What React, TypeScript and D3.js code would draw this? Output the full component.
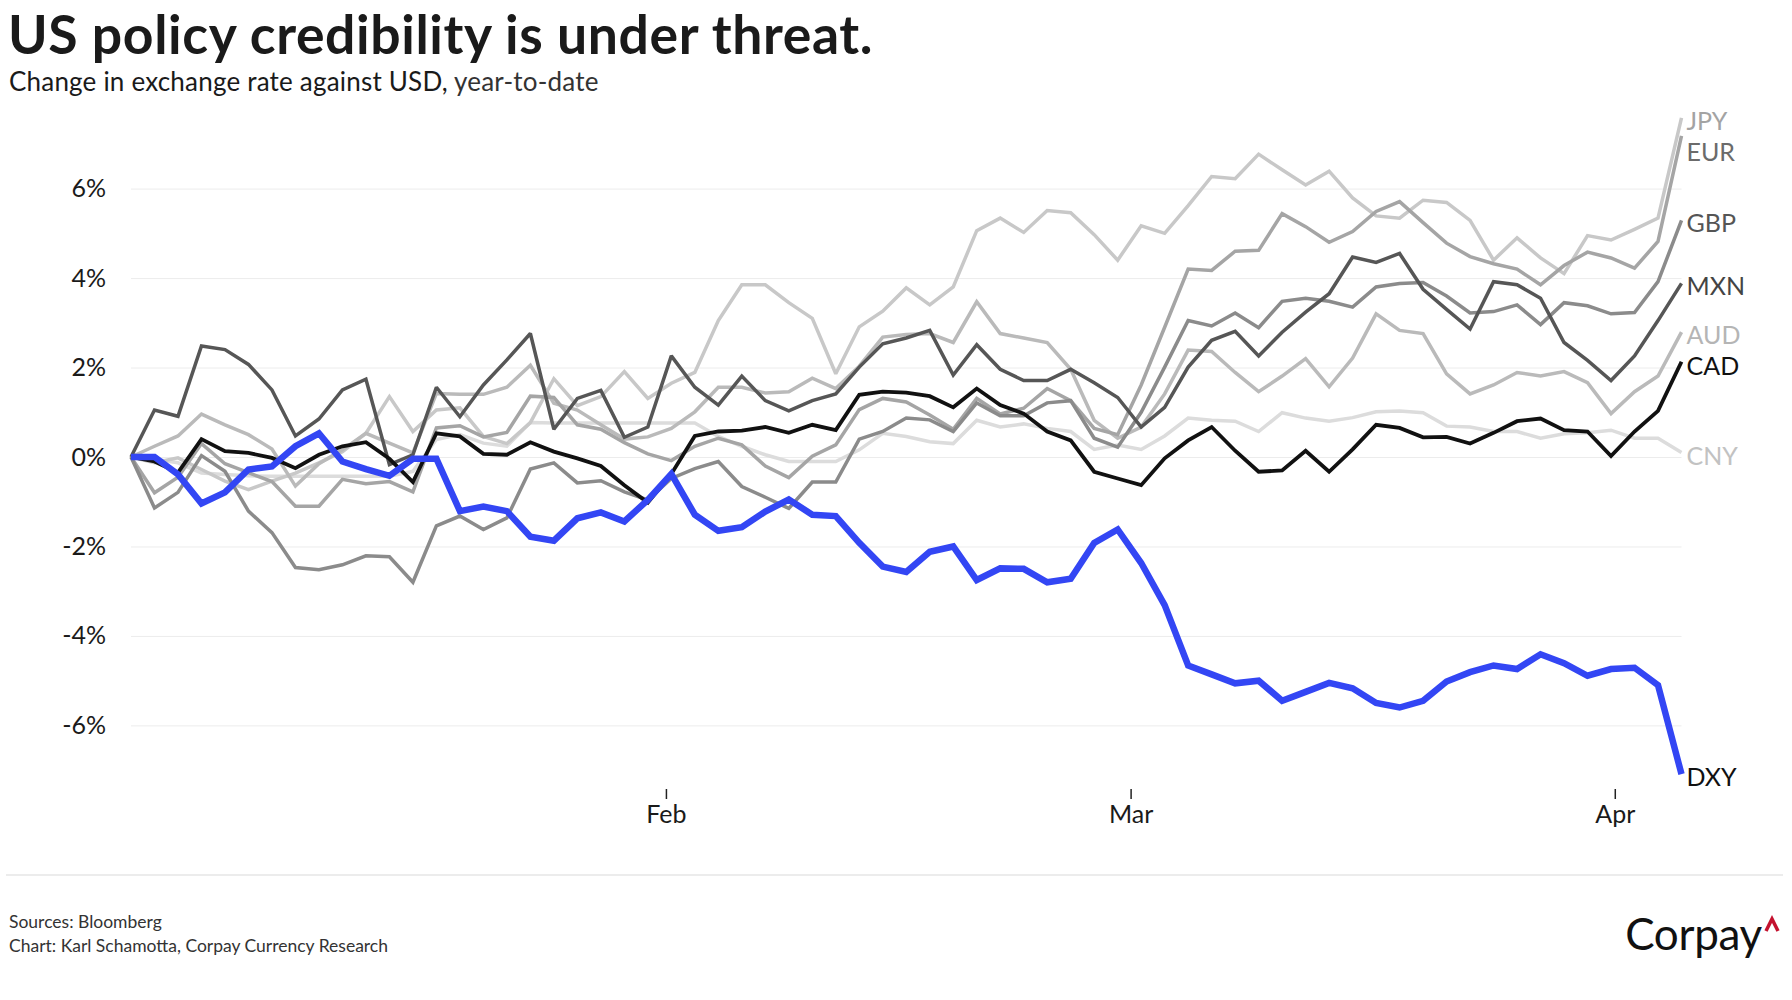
import { useEffect, useRef } from "react";
import * as d3 from "d3";

const FONT = "Lato, 'Noto Sans', sans-serif";

// x = trading-day index, 0 = 31 Dec 2024 (all series rebased to 0%)
const monthTicks = [22.77, 42.55, 63.16];
const monthLabels = ["Feb", "Mar", "Apr"];
const yTicks = [-6, -4, -2, 0, 2, 4, 6];

const dxy = [0, 0, -0.39, -1.04, -0.79, -0.28, -0.21, 0.24, 0.53, -0.1, -0.27, -0.42, -0.04, -0.04, -1.21, -1.11, -1.21, -1.78, -1.87, -1.37, -1.24, -1.44, -0.96, -0.38, -1.29, -1.65, -1.57, -1.22, -0.95, -1.29, -1.32, -1.92, -2.45, -2.57, -2.12, -2.0, -2.75, -2.49, -2.5, -2.8, -2.72, -1.92, -1.62, -2.37, -3.31, -4.66, -4.86, -5.06, -5.0, -5.45, -5.25, -5.05, -5.17, -5.5, -5.6, -5.45, -5.02, -4.81, -4.66, -4.74, -4.41, -4.61, -4.89, -4.74, -4.71, -5.1, -7.09];
const cad = [0, -0.1, -0.35, 0.4, 0.13, 0.09, -0.02, -0.25, 0.05, 0.24, 0.33, -0.04, -0.56, 0.53, 0.46, 0.07, 0.05, 0.33, 0.12, -0.03, -0.2, -0.63, -1.02, -0.38, 0.47, 0.57, 0.59, 0.67, 0.54, 0.72, 0.6, 1.39, 1.46, 1.44, 1.36, 1.11, 1.53, 1.16, 0.97, 0.57, 0.37, -0.33, -0.48, -0.63, -0.03, 0.37, 0.67, 0.14, -0.33, -0.3, 0.14, -0.33, 0.17, 0.72, 0.65, 0.44, 0.45, 0.3, 0.54, 0.8, 0.86, 0.6, 0.57, 0.02, 0.57, 1.03, 2.13];
const mxn = [0, 1.05, 0.91, 2.48, 2.4, 2.07, 1.5, 0.47, 0.85, 1.5, 1.74, -0.17, 0.05, 1.56, 0.9, 1.61, 2.17, 2.76, 0.62, 1.31, 1.49, 0.44, 0.67, 2.26, 1.56, 1.16, 1.81, 1.26, 1.03, 1.26, 1.41, 2.01, 2.53, 2.66, 2.83, 1.83, 2.51, 1.96, 1.71, 1.71, 1.96, 1.66, 1.33, 0.67, 1.11, 2.01, 2.61, 2.81, 2.26, 2.79, 3.24, 3.65, 4.47, 4.35, 4.55, 3.75, 3.3, 2.86, 3.92, 3.85, 3.55, 2.56, 2.16, 1.71, 2.26, 3.05, 3.88];
const gbp = [0, -1.14, -0.79, 0.03, -0.32, -1.21, -1.69, -2.47, -2.52, -2.41, -2.21, -2.23, -2.8, -1.54, -1.32, -1.62, -1.36, -0.27, -0.13, -0.58, -0.53, -0.78, -0.96, -0.48, -0.26, -0.1, -0.66, -0.9, -1.15, -0.56, -0.56, 0.4, 0.57, 0.87, 0.83, 0.57, 1.21, 0.92, 0.92, 1.21, 1.26, 0.42, 0.22, 1.0, 2.01, 3.05, 2.93, 3.22, 2.89, 3.48, 3.55, 3.48, 3.35, 3.8, 3.88, 3.9, 3.6, 3.22, 3.25, 3.4, 2.96, 3.45, 3.38, 3.2, 3.23, 3.92, 5.29];
const eur = [0, -0.8, -0.45, 0.3, -0.15, -0.35, -0.55, -1.1, -1.1, -0.5, -0.6, -0.55, -0.78, 0.65, 0.7, 0.45, 0.55, 1.36, 1.33, 0.72, 0.62, 0.32, 0.07, -0.08, 0.24, 0.42, 0.27, -0.2, -0.46, 0.02, 0.27, 1.06, 1.31, 1.23, 0.94, 0.62, 1.31, 0.96, 1.09, 1.53, 1.26, 0.64, 0.5, 1.61, 2.9, 4.2, 4.17, 4.6, 4.62, 5.44, 5.15, 4.8, 5.04, 5.49, 5.71, 5.24, 4.78, 4.48, 4.32, 4.2, 3.85, 4.28, 4.58, 4.45, 4.22, 4.82, 7.18];
const jpy = [0, -0.13, -0.02, -0.28, -0.54, -0.73, -0.54, -0.36, -0.13, 0.12, 0.53, 1.35, 0.57, 1.05, 1.1, 0.46, 0.3, 0.77, 1.75, 1.15, 1.35, 1.91, 1.31, 1.65, 1.89, 3.05, 3.85, 3.85, 3.45, 3.1, 1.86, 2.91, 3.26, 3.78, 3.4, 3.8, 5.06, 5.34, 5.02, 5.51, 5.46, 4.97, 4.4, 5.17, 5.0, 5.62, 6.27, 6.22, 6.77, 6.42, 6.08, 6.39, 5.79, 5.39, 5.34, 5.74, 5.69, 5.29, 4.4, 4.9, 4.45, 4.1, 4.95, 4.85, 5.09, 5.34, 7.58];
const aud = [0, 0.24, 0.47, 0.96, 0.72, 0.5, 0.18, -0.65, -0.15, 0.16, 0.53, 0.31, 0.09, 1.42, 1.4, 1.4, 1.56, 2.05, 1.2, 1.05, 0.72, 0.4, 0.45, 0.64, 1.01, 1.56, 1.56, 1.43, 1.46, 1.76, 1.53, 2.03, 2.68, 2.74, 2.76, 2.56, 3.47, 2.76, 2.66, 2.56, 1.96, 0.82, 0.42, 0.67, 1.41, 2.39, 2.36, 1.89, 1.46, 1.81, 2.2, 1.57, 2.21, 3.2, 2.83, 2.76, 1.86, 1.41, 1.61, 1.89, 1.81, 1.91, 1.66, 0.97, 1.46, 1.81, 2.79];
const cny = [0, -0.05, -0.13, -0.36, -0.39, -0.42, -0.43, -0.43, -0.43, -0.43, -0.43, -0.43, -0.32, 0.39, 0.5, 0.31, 0.24, 0.77, 0.76, 0.76, 0.76, 0.76, 0.76, 0.76, 0.76, 0.46, 0.24, 0.05, -0.1, -0.1, -0.1, 0.16, 0.53, 0.46, 0.34, 0.3, 0.82, 0.67, 0.74, 0.64, 0.57, 0.17, 0.27, 0.17, 0.47, 0.87, 0.82, 0.8, 0.57, 0.99, 0.87, 0.8, 0.88, 1.01, 1.03, 0.99, 0.69, 0.67, 0.57, 0.57, 0.42, 0.52, 0.54, 0.6, 0.42, 0.42, 0.1];

// drawing order: light greys first, DXY on top
const series = [
  { name: "CNY", values: cny, stroke: "#dcdcdc", label: "#c2c2c2", width: 3.5 },
  { name: "JPY", values: jpy, stroke: "#c8c8c8", label: "#a3a3a3", width: 3.5 },
  { name: "AUD", values: aud, stroke: "#bababa", label: "#b5b5b5", width: 3.5 },
  { name: "EUR", values: eur, stroke: "#a5a5a5", label: "#6b6b6b", width: 3.5 },
  { name: "GBP", values: gbp, stroke: "#8b8b8b", label: "#555555", width: 3.5 },
  { name: "MXN", values: mxn, stroke: "#565656", label: "#444444", width: 3.5 },
  { name: "CAD", values: cad, stroke: "#111111", label: "#111111", width: 3.8 },
  { name: "DXY", values: dxy, stroke: "#3346f4", label: "#111111", width: 6.5 },
];

export default function App() {
  const yAxisRef = useRef<SVGGElement | null>(null);
  const xAxisRef = useRef<SVGGElement | null>(null);

  const x = d3.scaleLinear().domain([0, dxy.length - 1]).range([131, 1681.5]);
  const y = d3.scaleLinear().domain([-6, 6]).range([725.4, 188.6]);
  const line = d3.line<number>().x((_, i) => x(i)).y((d) => y(d));

  // end labels, pushed apart so they don't overlap
  const labels = series
    .map((s) => ({ ...s, ly: y(s.values[s.values.length - 1]) }))
    .sort((a, b) => a.ly - b.ly);
  for (let i = 1; i < labels.length; i++) {
    labels[i].ly = Math.max(labels[i].ly, labels[i - 1].ly + 31);
  }

  useEffect(() => {
    const yAxis = d3
      .axisLeft(y)
      .tickValues(yTicks)
      .tickSize(-(x.range()[1] - x.range()[0]))
      .tickPadding(25)
      .tickFormat((d) => `${d}%`);
    const gy = d3.select(yAxisRef.current!).attr("transform", `translate(${x.range()[0]},0)`).call(yAxis);
    gy.select(".domain").remove();
    gy.selectAll(".tick line").attr("stroke", "#ececec").attr("stroke-width", 1);
    gy.selectAll(".tick text").attr("fill", "#1a1a1a");
    gy.attr("font-size", 25).attr("font-family", FONT);

    const xAxis = d3
      .axisBottom(x)
      .tickValues(monthTicks)
      .tickSize(10)
      .tickPadding(6)
      .tickFormat((_, i) => monthLabels[i]);
    const gx = d3.select(xAxisRef.current!).attr("transform", "translate(0,789)").call(xAxis);
    gx.select(".domain").remove();
    gx.selectAll(".tick line").attr("stroke", "#222").attr("stroke-width", 1.5);
    gx.selectAll(".tick text").attr("fill", "#1a1a1a");
    gx.attr("font-size", 25).attr("font-family", FONT);
  }, []);

  return (
    <svg
      width={1792}
      height={1000}
      style={{ position: "absolute", left: 0, top: 0, background: "#fff" }}
      fontFamily={FONT}
    >
      <text x={8} y={53.5} fontSize={53.5} fontWeight={700} fill="#1a1a1a" letterSpacing={0.6}>
        US policy credibility is under threat.
      </text>
      <text x={9} y={91} fontSize={26} fill="#1a1a1a" letterSpacing={0.2}>
        Change in exchange rate against USD, <tspan fill="#333">year-to-date</tspan>
      </text>

      <g ref={yAxisRef} />
      <g ref={xAxisRef} />

      {series.map((s) => (
        <path
          key={s.name}
          d={line(s.values) ?? ""}
          fill="none"
          stroke={s.stroke}
          strokeWidth={s.width}
          strokeLinejoin="miter"
          strokeMiterlimit={2}
        />
      ))}

      {labels.map((s) => (
        <text
          key={s.name}
          x={x(s.values.length - 1) + 5}
          y={s.ly + 2}
          dominantBaseline="central"
          fontSize={25}
          fill={s.label}
        >
          {s.name}
        </text>
      ))}

      <line x1={6} x2={1783} y1={875} y2={875} stroke="#d9d9d9" strokeWidth={1} />
      <text x={9} y={928} fontSize={17.5} fill="#333">
        Sources: Bloomberg
      </text>
      <text x={9} y={952} fontSize={17.5} fill="#333">
        Chart: Karl Schamotta, Corpay Currency Research
      </text>

      <text x={1762} y={950} fontSize={44} textAnchor="end" fill="#111" letterSpacing={-0.3}>
        Corpay
      </text>
      <path d="M1766,931 L1772,919 L1778,931" fill="none" stroke="#c4122f" strokeWidth={3.5} />
    </svg>
  );
}
